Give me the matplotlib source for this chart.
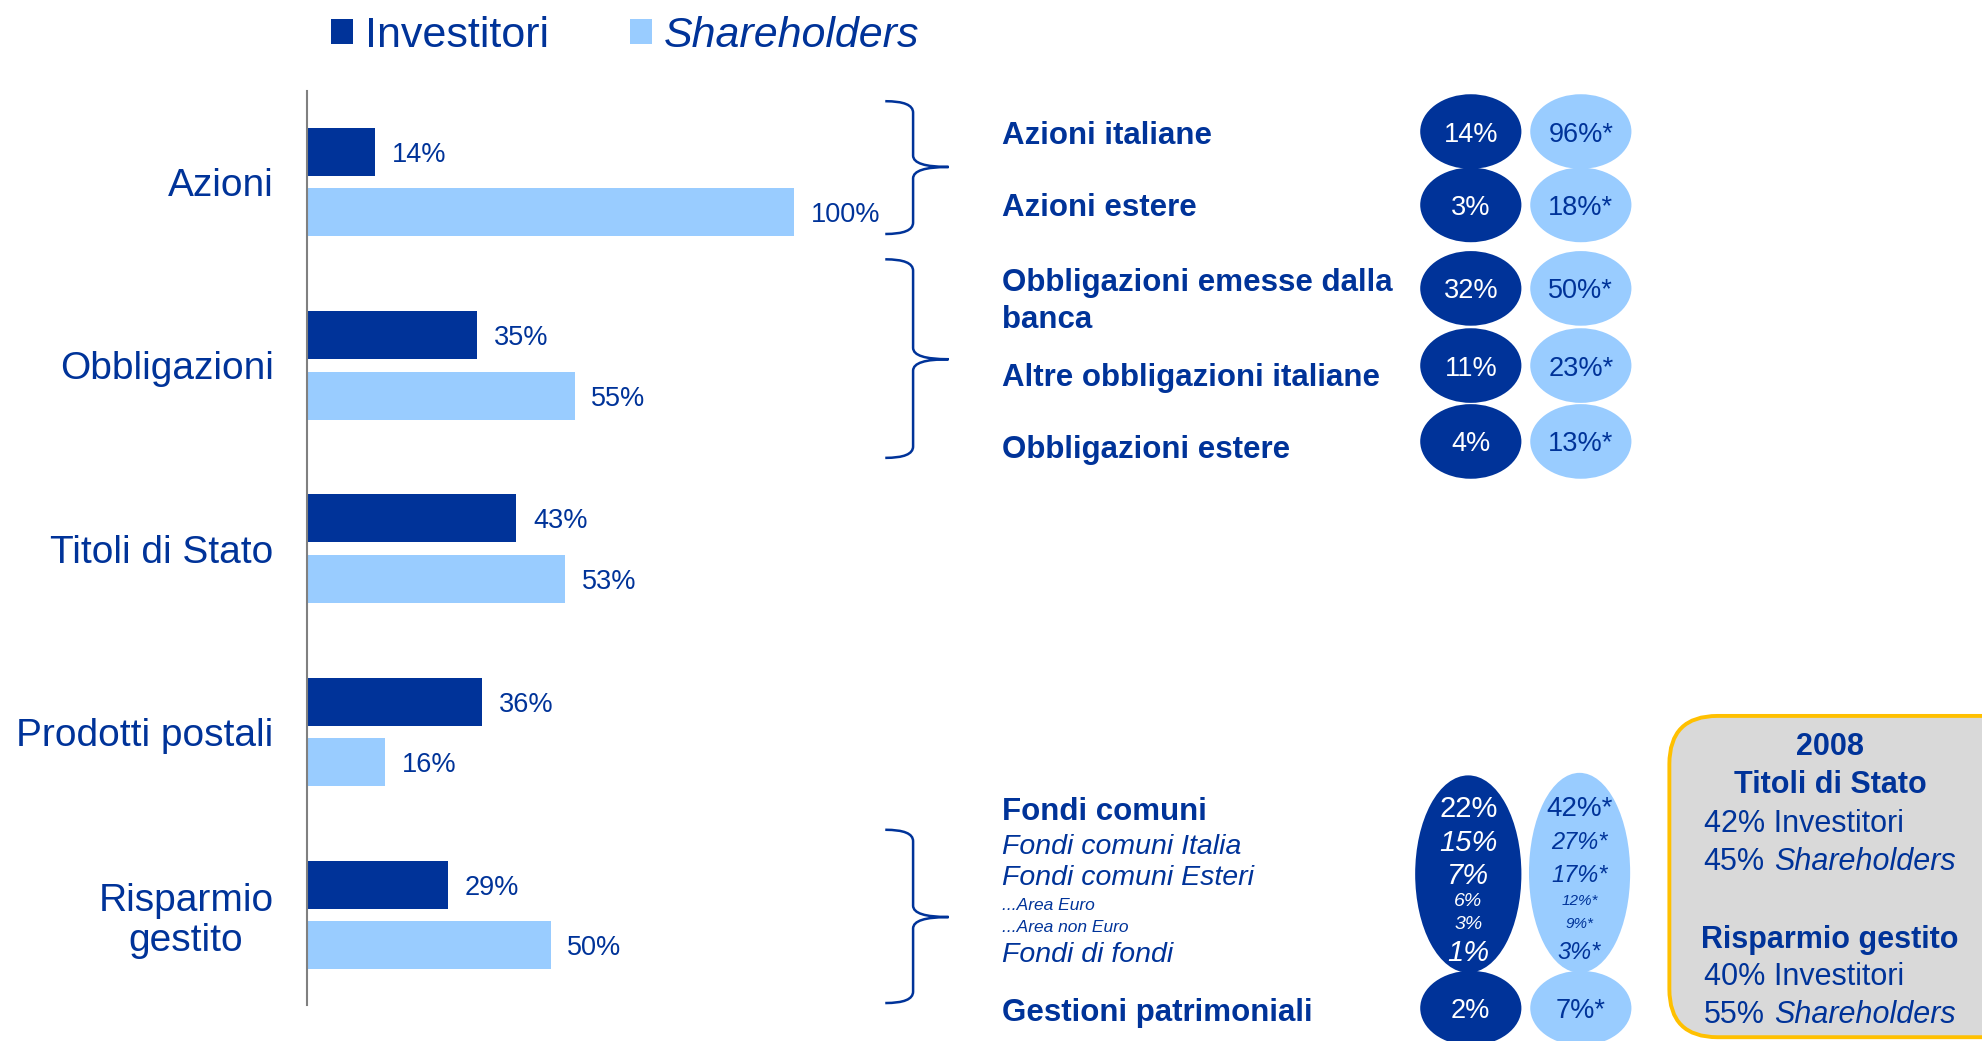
import matplotlib
matplotlib.use('Agg')
import matplotlib.pyplot as plt
from matplotlib.patches import Ellipse, FancyBboxPatch, PathPatch
from matplotlib.path import Path

plt.rcParams['font.family'] = ['Liberation Sans', 'DejaVu Sans']

NAVY = '#003399'
LIGHT = '#99CCFF'

# main bar chart
categories = ['Azioni', 'Obbligazioni', 'Titoli di Stato', 'Prodotti postali', 'Risparmio\ngestito']
investitori = [14, 35, 43, 36, 29]
shareholders = [100, 55, 53, 16, 50]

# detail on the right
top_labels = ['Azioni italiane', 'Azioni estere', 'Obbligazioni emesse dalla\nbanca',
              'Altre obbligazioni italiane', 'Obbligazioni estere']
top_inv = [14, 3, 32, 11, 4]
top_sh = [96, 18, 50, 23, 13]

fondi_labels = ['Fondi comuni', 'Fondi comuni Italia', 'Fondi comuni Esteri',
                '...Area Euro', '...Area non Euro', 'Fondi di fondi']
fondi_inv = [22, 15, 7, 6, 3, 1]
fondi_sh = [42, 27, 17, 12, 9, 3]

gestioni_label = 'Gestioni patrimoniali'
gestioni_inv = 2
gestioni_sh = 7

box_year = '2008'
box_titoli = (42, 45)
box_gestito = (40, 55)

fig = plt.figure(figsize=(19.83, 10.41), dpi=100)

# overlay in reference coordinates (1568 x 823 grid)
ov = fig.add_axes([0, 0, 1, 1])
ov.set_xlim(0, 1568)
ov.set_ylim(823, 0)
ov.axis('off')

# bars
ax = fig.add_axes([307 / 1983, 1 - 1005 / 1041, 487 / 1983, (1005 - 91) / 1041])
ax.set_facecolor('none')
pos = list(range(len(categories)))
h = 0.262
b1 = ax.barh([p - 0.165 for p in pos], investitori, height=h, color=NAVY)
b2 = ax.barh([p + 0.165 for p in pos], shareholders, height=h, color=LIGHT)
for p, v in zip(pos, investitori):
    ax.text(v + 3.4, p - 0.165, f'{v}%', va='center_baseline', ha='left', color=NAVY, fontsize=19.5)
for p, v in zip(pos, shareholders):
    ax.text(v + 3.4, p + 0.165, f'{v}%', va='center_baseline', ha='left', color=NAVY, fontsize=19.5)
ax.set_xlim(0, 100)
ax.set_ylim(4.49, -0.497)
ax.set_yticks(pos)
ax.set_yticklabels(categories, fontsize=28, color=NAVY, linespacing=1.12)
ax.get_yticklabels()[-1].set_multialignment('center')
ax.tick_params(axis='y', length=0, pad=24)
ax.set_xticks([])
for s in ['top', 'right', 'bottom']:
    ax.spines[s].set_visible(False)
ax.spines['left'].set_color('#808080')
ax.spines['left'].set_linewidth(1.5)

leg = fig.legend([b1, b2], ['Investitori', 'Shareholders'], loc='upper left',
                 bbox_to_anchor=(331 / 1983, 0.985), ncol=2, frameon=False,
                 fontsize=31, labelcolor=NAVY, handlelength=0.5, handleheight=0.5,
                 handletextpad=0.28, columnspacing=1.9, borderpad=0, borderaxespad=0)
leg.get_texts()[1].set_fontstyle('italic')


def brace(x0, y0, y1, ytip, w=22, tip=28, r=9):
    xm = x0 + w
    verts = [(x0, y0), (xm, y0), (xm, y0 + r),
             (xm, ytip - r), (xm, ytip), (xm + tip, ytip),
             (xm, ytip), (xm, ytip + r),
             (xm, y1 - r), (xm, y1), (x0, y1)]
    codes = [Path.MOVETO, Path.CURVE3, Path.CURVE3,
             Path.LINETO, Path.CURVE3, Path.CURVE3,
             Path.CURVE3, Path.CURVE3,
             Path.LINETO, Path.CURVE3, Path.CURVE3]
    ov.add_patch(PathPatch(Path(verts, codes), fill=False, edgecolor=NAVY, lw=1.8))


brace(700, 80, 185, 132)
brace(700, 205, 362, 284)
brace(700, 656, 793, 725)

DX, LX = 1163, 1250


def pill(y, inv, sh, hgt=59, size=19.5):
    ov.add_patch(Ellipse((DX, y), 80, hgt, color=NAVY, lw=0))
    ov.add_patch(Ellipse((LX, y), 80, hgt, color=LIGHT, lw=0))
    ov.text(DX, y, f'{inv}%', ha='center', va='center_baseline', color='white', fontsize=size)
    ov.text(LX, y, f'{sh}%*', ha='center', va='center_baseline', color=NAVY, fontsize=size)


top_y = [104, 162, 228, 289, 349]
top_label_y = [105, 162, 233, 296, 353]
for y, ly, lab, i, s in zip(top_y, top_label_y, top_labels, top_inv, top_sh):
    pill(y, i, s)
    ov.text(792, ly, lab, ha='left', va='center_baseline', color=NAVY, fontsize=22.5,
            fontweight='bold', linespacing=1.3)

# fondi comuni block
ov.add_patch(Ellipse((1161, 691), 84, 156, color=NAVY, lw=0))
ov.add_patch(Ellipse((1249, 690), 80, 158, color=LIGHT, lw=0))
fondi_label_y = [639, 667, 692, 715, 732, 753]
fondi_val_y = [637, 664, 690, 711, 729, 751]
for k, (lab, ly, vy, i, s) in enumerate(zip(fondi_labels, fondi_label_y, fondi_val_y, fondi_inv, fondi_sh)):
    if k == 0:
        ov.text(792, ly, lab, ha='left', va='center_baseline', color=NAVY, fontsize=22.5, fontweight='bold')
        style, vs, ss = 'normal', 21, 20
    elif k in (3, 4):
        ov.text(792, ly, lab, ha='left', va='center_baseline', color=NAVY, fontsize=12.5, fontstyle='italic')
        style, vs, ss = 'italic', 14, 11
    else:
        ov.text(792, ly, lab, ha='left', va='center_baseline', color=NAVY, fontsize=20.5, fontstyle='italic')
        style, vs, ss = 'italic', 21, 17
    ov.text(1161, vy, f'{i}%', ha='center', va='center_baseline', color='white', fontsize=vs, fontstyle=style)
    ov.text(1249, vy, f'{s}%*', ha='center', va='center_baseline', color=NAVY, fontsize=ss, fontstyle=style)

pill(797, gestioni_inv, gestioni_sh)
ov.text(792, 798, gestioni_label, ha='left', va='center_baseline', color=NAVY, fontsize=22.5, fontweight='bold')

# note box
ov.add_patch(FancyBboxPatch((1320, 566), 300, 254, boxstyle='round,pad=0,rounding_size=38',
                            facecolor='#D9D9D9', edgecolor='#FFC000', lw=2.8))
kw = dict(va='center_baseline', color=NAVY, fontsize=22)
ov.text(1447, 588, box_year, ha='center', fontweight='bold', **kw)
ov.text(1447, 618, 'Titoli di Stato', ha='center', fontweight='bold', **kw)
ov.text(1347, 649, f'{box_titoli[0]}% Investitori', ha='left', **kw)
ov.text(1347, 679, f'{box_titoli[1]}%', ha='left', **kw)
ov.text(1403, 679, 'Shareholders', ha='left', fontstyle='italic', **kw)
ov.text(1447, 740, 'Risparmio gestito', ha='center', fontweight='bold', **kw)
ov.text(1347, 770, f'{box_gestito[0]}% Investitori', ha='left', **kw)
ov.text(1347, 800, f'{box_gestito[1]}%', ha='left', **kw)
ov.text(1403, 800, 'Shareholders', ha='left', fontstyle='italic', **kw)

fig.savefig('out.png', dpi=100)
